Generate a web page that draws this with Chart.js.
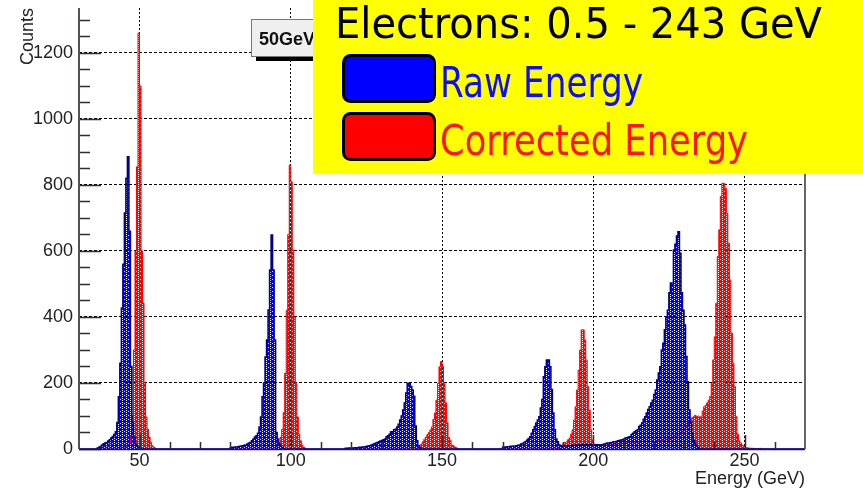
<!DOCTYPE html>
<html>
<head>
<meta charset="utf-8">
<script src="https://cdn.jsdelivr.net/npm/chart.js@4.4.1/dist/chart.umd.min.js"></script>
<style>
  html, body { margin: 0; padding: 0; background: #fff; }
  #wrap { width: 863px; height: 492px; }
</style>
</head>
<body>
<div id="wrap"><canvas id="energy" width="863" height="492"></canvas></div>
<script>
const xMin = 30;
const xMax = 270;
const yMax = 1336;
const binWidth = 0.5;
const xMinorStep = 10;
const yMinorStep = 50;

const xTicks = [50, 100, 150, 200, 250];
const yTicks = [0, 200, 400, 600, 800, 1000, 1200];

// raw energy: low edge of the first bin of each run, then the counts of each run
const rawStarts = [36, 80, 118, 170, 189.5];
const raw50 = [3, 5, 8, 12, 16, 18, 20, 24, 28, 33, 38, 44, 52, 80, 158, 260, 427, 560, 715, 820,
  885, 660, 250, 80, 36, 15, 8, 4];
const raw100 = [4, 5, 5, 6, 6, 7, 8, 9, 10, 11, 12, 15, 18, 20, 25, 30, 36, 40, 48, 67,
  97, 158, 200, 279, 330, 421, 542, 648, 542, 330, 50, 30, 15, 8, 4];
const raw150 = [2, 2, 3, 3, 3, 3, 4, 4, 4, 5, 5, 6, 6, 7, 8, 9, 10, 12, 14, 16,
  18, 20, 22, 24, 26, 28, 30, 37, 40, 45, 52, 52, 58, 60, 67, 75, 88, 100, 118, 139,
  170, 199, 199, 189, 179, 160, 70, 25, 10, 4];
const raw200 = [5, 6, 6, 7, 7, 8, 8, 9, 9, 10, 11, 12, 15, 17, 20, 23, 27, 32, 37, 48,
  58, 68, 79, 88, 98, 124, 150, 219, 249, 270, 270, 249, 180, 109, 58, 30, 22, 12, 10];
const raw250 = [8, 8, 9, 9, 10, 10, 10, 11, 11, 12,
  12, 12, 13, 13, 14, 12, 14, 13, 12, 14,
  13, 12, 13, 12, 13, 12, 13, 14, 15, 17,
  18, 18, 19, 20, 22, 22, 23, 25, 26, 27,
  28, 30, 33, 34, 36, 37, 44, 48, 52, 55,
  58, 68, 72, 79, 90, 98, 109, 120, 128, 139,
  148, 165, 179, 209, 230, 249, 300, 320, 361, 401,
  420, 473, 503, 503, 603, 620, 645, 658, 593, 473,
  420, 376, 280, 204, 118, 80, 48, 25, 15, 8,
  4];

// corrected energy, same layout
const corrStarts = [42, 95, 142.5, 188.5, 200.5];
const corr50 = [2, 3, 3, 4, 4, 5, 6, 8, 10, 15, 40, 100, 300, 600, 855, 1260, 1100, 600, 442, 200,
  97, 60, 36, 20, 10, 5, 3];
const corr100 = [6, 10, 20, 36, 60, 110, 230, 420, 650, 860, 810, 603, 400, 200, 97, 45, 25, 12, 6, 3];
const corr150 = [8, 15, 22, 30, 36, 44, 50, 58, 67, 90, 109, 148, 199, 249, 265, 250, 200, 140, 80, 35,
  27, 12, 10, 6, 4];
const corr200 = [5, 8, 12, 18, 20, 22, 28, 33, 45, 58, 88, 128, 179, 239, 300, 361, 361, 330, 270, 189,
  118, 58, 27, 15];
const corr250 = [12, 10, 12, 10, 9, 12, 10, 11, 13, 12,
  14, 12, 15, 14, 16, 15, 18, 16, 18, 17,
  19, 18, 20, 18, 19, 21, 18, 20, 22, 20,
  21, 23, 21, 22, 24, 22, 23, 22, 25, 23,
  24, 22, 26, 25, 24, 27, 26, 30, 28, 32,
  30, 35, 37, 36, 40, 42, 45, 50, 55, 62,
  68, 72, 80, 88, 95, 98, 102, 98, 100, 96,
  98, 115, 128, 133, 140, 148, 160, 199, 270, 340,
  442, 583, 664, 765, 805, 805, 790, 714, 624, 512,
  351, 260, 189, 98, 45, 25, 18, 12, 9, 5,
  4, 3, 3, 2, 2, 2, 1, 1, 1, 2];

// spread the runs over the full 30-270 GeV binning, one point per bin centre
function toBins(starts, runs) {
  const n = Math.round((xMax - xMin) / binWidth);
  const pts = [];
  for (let i = 0; i < n; i++) pts.push({ x: xMin + (i + 0.5) * binWidth, y: 0 });
  runs.forEach((run, k) => {
    const first = Math.round((starts[k] - xMin) / binWidth);
    run.forEach((v, i) => { pts[first + i].y = v; });
  });
  return pts;
}

const canvas = document.getElementById('energy');
const ctx = canvas.getContext('2d');

// ROOT-like fill: solid colour with small see-through holes
function hatch(color) {
  const tile = document.createElement('canvas');
  tile.width = 4;
  tile.height = 4;
  const g = tile.getContext('2d');
  g.fillStyle = color;
  g.fillRect(0, 0, 4, 4);
  g.clearRect(2, 0, 1, 1);
  g.clearRect(2, 2, 1, 1);
  g.clearRect(0, 3, 1, 1);
  return ctx.createPattern(tile, 'repeat');
}

const tickFont = { family: '"Liberation Sans", Arial, sans-serif', size: 18 };

const axisFrame = {
  id: 'axisFrame',
  afterDatasetsDraw(chart) {
    const { ctx, chartArea: a, scales: { x, y } } = chart;
    ctx.save();
    ctx.strokeStyle = '#2e2e3a';
    ctx.lineWidth = 1.5;
    ctx.beginPath();
    for (let v = 0; v <= yMax; v += yMinorStep) {
      const py = Math.round(y.getPixelForValue(v)) + 0.5;
      const len = v % 200 === 0 ? 22 : 11;
      ctx.moveTo(a.left, py);
      ctx.lineTo(a.left + len, py);
    }
    for (let v = xMin + xMinorStep; v < xMax; v += xMinorStep) {
      const px = Math.round(x.getPixelForValue(v)) + 0.5;
      const len = v % 50 === 0 ? 14 : 7;
      ctx.moveTo(px, a.bottom);
      ctx.lineTo(px, a.bottom - len);
    }
    ctx.stroke();

    ctx.lineWidth = 2;
    ctx.strokeStyle = '#50505f';
    ctx.beginPath();
    ctx.moveTo(a.left, a.top);
    ctx.lineTo(a.left, a.bottom);
    ctx.stroke();
    ctx.strokeStyle = '#666';
    ctx.beginPath();
    ctx.moveTo(a.right, a.top);
    ctx.lineTo(a.right, a.bottom);
    ctx.stroke();
    ctx.lineWidth = 1.5;
    ctx.strokeStyle = '#10108a';
    ctx.beginPath();
    ctx.moveTo(a.left, a.bottom + 0.5);
    ctx.lineTo(a.right, a.bottom + 0.5);
    ctx.stroke();
    ctx.restore();
  }
};

// squeeze a string horizontally into a given width
function fitText(c, str, x, y, w) {
  const m = c.measureText(str).width;
  c.save();
  c.translate(x, y);
  c.scale(w / m, 1);
  c.fillText(str, 0, 0);
  c.restore();
}

function roundBox(c, x, y, w, h, r, fill) {
  c.beginPath();
  c.roundRect(x, y, w, h, r);
  c.fillStyle = fill;
  c.fill();
  c.lineWidth = 3;
  c.strokeStyle = '#000';
  c.stroke();
}

const overlay = {
  id: 'overlay',
  afterDraw(chart) {
    const c = chart.ctx;
    c.save();
    c.fillStyle = '#222';
    c.font = '18px "Liberation Sans", Arial, sans-serif';
    c.textAlign = 'right';
    c.textBaseline = 'alphabetic';
    c.fillText('Energy (GeV)', 805, 484);
    c.save();
    c.translate(33, 8);
    c.rotate(-Math.PI / 2);
    c.fillText('Counts', 0, 0);
    c.restore();

    // histogram name box with its shadow
    c.fillStyle = '#000';
    c.fillRect(256, 23, 100, 38);
    c.fillStyle = '#efefef';
    c.fillRect(251, 19, 100, 38);
    c.strokeStyle = '#777';
    c.lineWidth = 1;
    c.strokeRect(251.5, 19.5, 99, 37);
    c.fillStyle = '#111';
    c.textAlign = 'left';
    c.font = 'bold 18px "Liberation Sans", Arial, sans-serif';
    c.fillText('50GeV_', 259, 45);

    // yellow title and legend panel
    c.fillStyle = '#ffff00';
    c.fillRect(313, 0, 550, 174);
    c.font = '42.5px "DejaVu Sans", sans-serif';
    c.fillStyle = '#000';
    fitText(c, 'Electrons: 0.5 - 243 GeV', 335, 38, 487);
    roundBox(c, 343.5, 55.5, 91, 46, 7, '#0000ff');
    roundBox(c, 343.5, 113.5, 91, 46, 7, '#ff0000');
    c.fillStyle = '#0c0cff';
    fitText(c, 'Raw Energy', 440, 97, 203);
    c.fillStyle = '#ff1414';
    fitText(c, 'Corrected Energy', 440, 155, 308);
    c.restore();
  }
};

new Chart(ctx, {
  type: 'line',
  data: {
    datasets: [
      {
        label: 'Raw Energy',
        data: toBins(rawStarts, [raw50, raw100, raw150, raw200, raw250]),
        stepped: 'middle',
        borderColor: '#00008b',
        borderWidth: 1.5,
        backgroundColor: hatch('#0000ff'),
        fill: 'origin',
        pointRadius: 0
      },
      {
        label: 'Corrected Energy',
        data: toBins(corrStarts, [corr50, corr100, corr150, corr200, corr250]),
        stepped: 'middle',
        borderColor: '#ff0000',
        borderWidth: 1,
        backgroundColor: hatch('#ff0000'),
        fill: 'origin',
        pointRadius: 0
      }
    ]
  },
  options: {
    responsive: false,
    animation: false,
    devicePixelRatio: 1,
    layout: { padding: { top: 8, right: 58, left: 0, bottom: 0 } },
    plugins: {
      legend: { display: false },
      tooltip: { enabled: false }
    },
    scales: {
      x: {
        type: 'linear',
        min: xMin,
        max: xMax,
        afterBuildTicks: s => { s.ticks = xTicks.map(v => ({ value: v })); },
        afterFit: s => {
          s.height = 43;
          s.paddingLeft = 0;
          s.paddingRight = 0;
        },
        ticks: {
          callback: v => String(v),
          font: tickFont,
          color: '#222',
          padding: 1,
          maxRotation: 0,
          autoSkip: false
        },
        grid: { color: '#000', lineWidth: 1, drawTicks: false },
        border: { display: false, dash: [2, 2] }
      },
      y: {
        min: 0,
        max: yMax,
        afterBuildTicks: s => { s.ticks = yTicks.map(v => ({ value: v })); },
        afterFit: s => {
          s.width = 79;
          s.paddingTop = 0;
          s.paddingBottom = 0;
        },
        ticks: {
          callback: v => String(v),
          font: tickFont,
          color: '#222',
          padding: 6
        },
        grid: {
          color: c => (c.tick && c.tick.value === 0 ? 'rgba(0,0,0,0)' : '#000'),
          lineWidth: 1,
          drawTicks: false
        },
        border: { display: false, dash: [3, 2] }
      }
    }
  },
  plugins: [axisFrame, overlay]
});
</script>
</body>
</html>
